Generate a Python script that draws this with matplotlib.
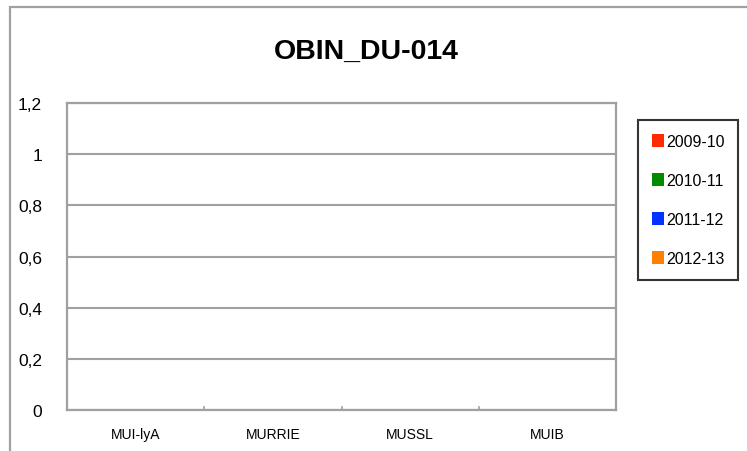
import matplotlib.pyplot as plt
from matplotlib.patches import Rectangle
from matplotlib.ticker import FuncFormatter
import numpy as np

plt.rcParams['font.family'] = ['Liberation Sans Narrow', 'Liberation Sans', 'DejaVu Sans']

categorias = ['MUI-lyA', 'MURRIE', 'MUSSL', 'MUIB']
temporadas = ['2009-10', '2010-11', '2011-12', '2012-13']
cores = ['#ff2a00', '#008a00', '#0033ff', '#ff7f00']
valores = {
    '2009-10': [0, 0, 0, 0],
    '2010-11': [0, 0, 0, 0],
    '2011-12': [0, 0, 0, 0],
    '2012-13': [0, 0, 0, 0],
}
yticks = [0, 0.2, 0.4, 0.6, 0.8, 1.0, 1.2]

W, H = 747, 452
fig = plt.figure(figsize=(W / 100, H / 100), dpi=100)
cinza = '#a0a0a0'

# moldura externa do gráfico
fig.patches.append(Rectangle((10 / W, -0.1), 2, 1.1 - 8 / H, transform=fig.transFigure,
                             fill=False, edgecolor=cinza, linewidth=1.6))

ax = fig.add_axes([67 / W, 1 - 411 / H, (616 - 67) / W, (411 - 104) / H])

x = np.arange(len(categorias))
larg = 0.15
for i, (t, c) in enumerate(zip(temporadas, cores)):
    ax.bar(x + (i - 1.5) * larg, valores[t], width=larg, color=c, label=t)

ax.set_xlim(-0.5, len(categorias) - 0.5)
ax.set_ylim(0, 1.2)
ax.set_yticks(yticks)
ax.yaxis.set_major_formatter(FuncFormatter(lambda v, p: ('%g' % v).replace('.', ',')))
ax.yaxis.grid(True, color=cinza, linewidth=1.5)
ax.set_axisbelow(True)
ax.tick_params(axis='y', length=0, labelsize=12.5, pad=18)

ax.set_xticks(x)
ax.set_xticklabels(categorias, fontsize=10)
ax.tick_params(axis='x', length=0, pad=12)
for b in [0.5, 1.5, 2.5]:
    ax.plot([b, b], [0, 0.012], color=cinza, linewidth=1.2, clip_on=False)

for s in ax.spines.values():
    s.set_color(cinza)
    s.set_linewidth(1.6)

fig.text(366 / W, 1 - 52 / H, 'OBIN_DU-014', ha='center', va='center',
         fontsize=20.5, fontweight='bold')

leg = fig.legend(loc='upper left', bbox_to_anchor=(638 / W, 1 - 121 / H),
                 frameon=True, fancybox=False, fontsize=11.5, handlelength=0.75,
                 handleheight=0.9, handletextpad=0.15, labelspacing=1.5,
                 borderpad=0.85, borderaxespad=0)
leg.get_frame().set_edgecolor('black')
leg.get_frame().set_linewidth(1.5)

fig.savefig('out.png', dpi=100)
